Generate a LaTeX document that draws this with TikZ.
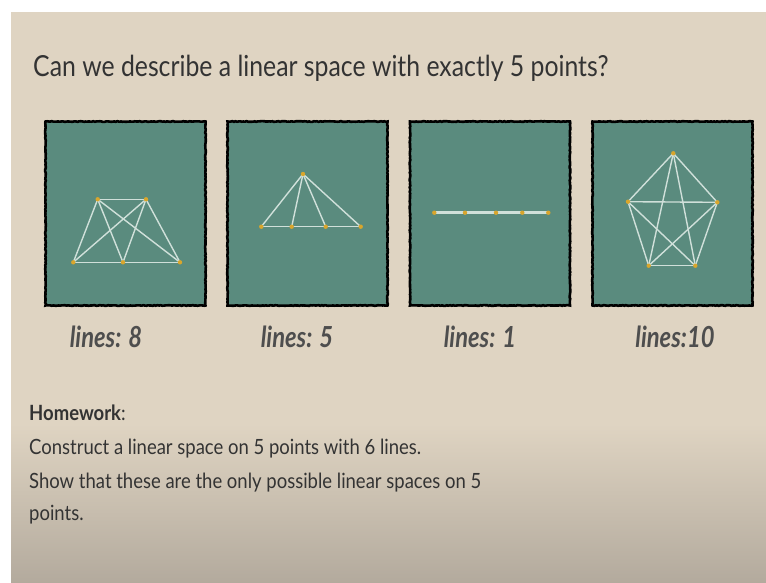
\documentclass[tikz,border=0pt]{standalone}
\usepackage{fontspec}
\setmainfont{Lato}
\newfontfamily\slidefont[FakeStretch=0.855]{Lato}
\newfontfamily\bodyfont[FakeStretch=0.88]{Lato}
\newfontfamily\tagfont[FakeStretch=0.82]{Lato}
\usetikzlibrary{decorations.pathmorphing}
\definecolor{paper}{HTML}{DFD4C2}
\definecolor{paperlow}{HTML}{B3AA9D}
\definecolor{board}{HTML}{5A8B7E}
\definecolor{chalk}{HTML}{D0E0DA}
\definecolor{dotc}{HTML}{D9A62C}
\definecolor{ink}{HTML}{333333}
\definecolor{tagink}{HTML}{4E4E4E}
\begin{document}
\begin{tikzpicture}[x=1pt,y=-1pt,
  every node/.style={inner sep=0pt,text=ink},
  boardbox/.style={fill=board,draw=black,line width=2.6pt,minimum width=160pt,minimum height=184pt,
    decorate,decoration={random steps,segment length=1.6pt,amplitude=0.35pt}},
  chalkline/.style={draw=chalk,line width=1.4pt,line cap=round},
  tag/.style={font=\tagfont\fontsize{29}{31}\selectfont\bfseries\itshape,text=tagink,anchor=base},
  body/.style={font=\bodyfont\fontsize{21}{24}\selectfont,text=ink,anchor=base west}]
  \useasboundingbox (0,0) rectangle (766,583);
  \fill[white] (0,0) rectangle (766,583);
  \fill[paper] (11,12) rectangle (766,425);
  \shade[top color=paper,bottom color=paperlow] (11,424) rectangle (766,583);
  \node[anchor=base west,font=\slidefont\fontsize{29}{31}\selectfont] (title) at (33,77)
    {Can we describe a linear space with exactly 5 points?};
  \node[boardbox] (b1) at (125.5,213.5) {};
  \node[boardbox] (b2) at (307.5,213.5) {};
  \node[boardbox] (b3) at (490,213.5) {};
  \node[boardbox] (b4) at (672.5,213.5) {};
  \coordinate (a1) at (97.7,199.3);
  \coordinate (a2) at (146,199.3);
  \coordinate (a3) at (73.3,262.3);
  \coordinate (a4) at (123,262.3);
  \coordinate (a5) at (180,262.3);
  \coordinate (c1) at (303,174);
  \coordinate (c2) at (261.3,226.7);
  \coordinate (c3) at (291.7,226.7);
  \coordinate (c4) at (325.7,226.7);
  \coordinate (c5) at (360.7,226.7);
  \coordinate (e1) at (434.3,212.7);
  \coordinate (e2) at (465,212.7);
  \coordinate (e3) at (496,212.7);
  \coordinate (e4) at (522.3,212.7);
  \coordinate (e5) at (548.3,212.7);
  \coordinate (p1) at (673.3,153.3);
  \coordinate (p2) at (717.3,202.3);
  \coordinate (p3) at (695.3,265.7);
  \coordinate (p4) at (648.7,265.7);
  \coordinate (p5) at (628,201.7);
  \foreach \u/\v in {a1/a2,a3/a5,a1/a3,a2/a5,a1/a4,a2/a4,a1/a5,a2/a3}
    \draw[chalkline] (\u) -- (\v);
  \foreach \v in {c2,c3,c4,c5}
    \draw[chalkline] (c1) -- (\v);
  \draw[chalkline] (c2) -- (c5);
  \draw[chalkline,line width=2.6pt] (e1) -- (e5);
  \foreach \u/\v in {p1/p2,p1/p3,p1/p4,p1/p5,p2/p3,p2/p4,p2/p5,p3/p4,p3/p5,p4/p5}
    \draw[chalkline] (\u) -- (\v);
  \foreach \p in {a1,a2,a3,a4,a5,c1,c2,c3,c4,c5,e1,e2,e3,e4,e5,p1,p2,p3,p4,p5}
    \fill[dotc] (\p) circle (2.2pt);
  \node[tag] (t1) at (106,347) {lines: 8};
  \node[tag] (t2) at (297,347) {lines: 5};
  \node[tag] (t3) at (480,347) {lines: 1};
  \node[tag] (t4) at (675,347) {lines:10};
  \node[body] (hw) at (29,420) {\textbf{Homework}:};
  \node[body] (hw1) at (29,454) {Construct a linear space on 5 points with 6 lines.};
  \node[body] (hw2) at (29,488) {Show that these are the only possible linear spaces on 5};
  \node[body] (hw3) at (29,520) {points.};
\end{tikzpicture}
\end{document}
